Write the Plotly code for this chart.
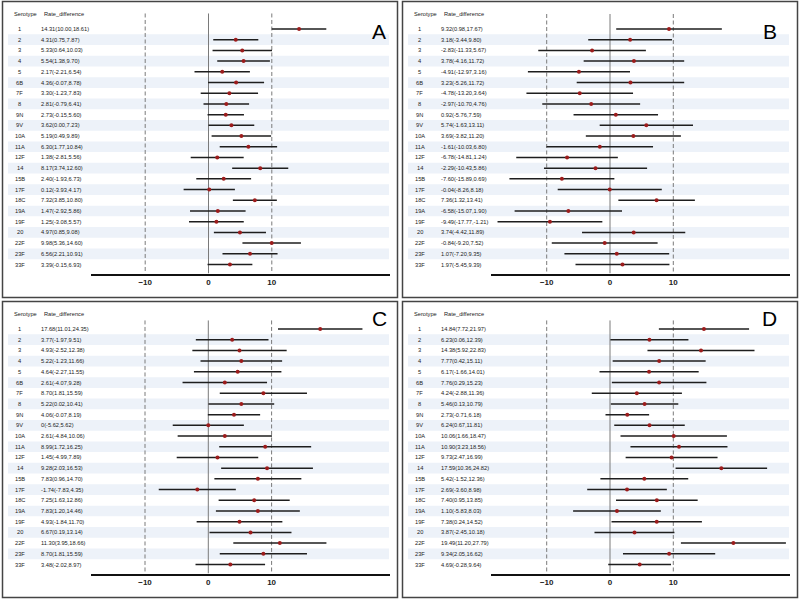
import plotly.graph_objects as go

serotypes = ["1", "2", "3", "4", "5", "6B", "7F", "8", "9N", "9V", "10A", "11A",
             "12F", "14", "15B", "17F", "18C", "19A", "19F", "20", "22F", "23F", "33F"]

# panel A
a_est = [14.31, 4.31, 5.33, 5.54, 2.17, 4.36, 3.30, 2.81, 2.73, 3.62, 5.19, 6.30,
         1.38, 8.17, 2.40, 0.12, 7.32, 1.47, 1.25, 4.97, 9.98, 6.56, 3.39]
a_low = [10.00, 0.75, 0.64, 1.38, -2.21, -0.07, -1.23, -0.79, -0.15, 0.00, 0.49, 1.77,
         -2.81, 3.74, -1.93, -3.93, 3.85, -2.92, -3.08, 0.85, 5.36, 2.21, -0.15]
a_high = [18.61, 7.87, 10.03, 9.70, 6.54, 8.78, 7.83, 6.41, 5.60, 7.23, 9.89, 10.84,
          5.56, 12.60, 6.73, 4.17, 10.80, 5.86, 5.57, 9.08, 14.60, 10.91, 6.93]

# panel B
b_est = [9.32, 3.18, -2.83, 3.78, -4.91, 3.23, -4.78, -2.97, 0.92, 5.74, 3.69, -1.61,
         -6.78, -2.29, -7.60, -0.04, 7.36, -6.58, -9.49, 3.74, -0.84, 1.07, 1.97]
b_low = [0.98, -3.44, -11.33, -4.16, -12.97, -5.26, -13.20, -10.70, -5.76, -1.63, -3.82, -10.03,
         -14.81, -10.43, -15.89, -8.26, 1.32, -15.07, -17.77, -4.42, -9.20, -7.20, -5.45]
b_high = [17.67, 9.80, 5.67, 11.72, 3.16, 11.72, 3.64, 4.76, 7.59, 13.11, 11.20, 6.80,
          1.24, 5.86, 0.69, 8.18, 13.41, 1.90, -1.21, 11.89, 7.52, 9.35, 9.39]

# panel C
c_est = [17.68, 3.77, 4.93, 5.22, 4.64, 2.61, 8.70, 5.22, 4.06, 0, 2.61, 8.99,
         1.45, 9.28, 7.83, -1.74, 7.25, 7.83, 4.93, 6.67, 11.30, 8.70, 3.48]
c_low = [11.01, -1.97, -2.52, -1.23, -2.27, -4.07, 1.81, 0.02, -0.07, -5.62, -4.84, 1.72,
         -4.99, 2.03, 0.96, -7.83, 1.63, 1.20, -1.84, 0.19, 3.95, 1.81, -2.02]
c_high = [24.35, 9.51, 12.38, 11.66, 11.55, 9.28, 15.59, 10.41, 8.19, 5.62, 10.06, 16.25,
          7.89, 16.53, 14.70, 4.35, 12.86, 14.46, 11.70, 13.14, 18.66, 15.59, 8.97]

# panel D
d_est = [14.84, 6.23, 14.38, 7.77, 6.17, 7.76, 4.24, 5.46, 2.73, 6.24, 10.06, 10.90,
         9.73, 17.59, 5.42, 2.69, 7.40, 1.10, 7.38, 3.87, 19.49, 9.34, 4.69]
d_low = [7.72, 0.06, 5.92, 0.42, -1.66, 0.29, -2.88, 0.13, -0.71, 0.67, 1.66, 3.23,
         2.47, 10.36, -1.52, -3.60, 0.95, -5.83, 0.24, -2.45, 11.20, 2.05, -0.28]
d_high = [21.97, 12.39, 22.83, 15.11, 14.01, 15.23, 11.36, 10.79, 6.18, 11.81, 18.47, 18.56,
          16.99, 24.82, 12.36, 8.98, 13.85, 8.03, 14.52, 10.18, 27.79, 16.62, 9.64]

panels = [("A", a_est, a_low, a_high),
          ("B", b_est, b_low, b_high),
          ("C", c_est, c_low, c_high),
          ("D", d_est, d_low, d_high)]

W, H = 800, 599
offsets = [(0, 0), (400, 0), (0, 300), (400, 300)]
zero_px = [208.5, 210, 208.3, 210]
line_top = [-1.45, -1.4, -0.8, -0.8]
unit = 6.33
row0, step = 29, 10.705
axis_px = 273.5
font = "Arial, Liberation Sans, sans-serif"
txt = dict(size=5.7, color="#222", family=font)


def fmt(v):
    return "0" if v == 0 else f"{v:.2f}"


def px(x):
    return x / W


def py(y):
    return 1 - y / H


fig = go.Figure()
shapes = []
annotations = []
layout = {}
rows = list(range(len(serotypes)))

for k, (name, est, low, high) in enumerate(panels):
    ox, oy = offsets[k]
    xa = "x" if k == 0 else f"x{k + 1}"
    ya = "y" if k == 0 else f"y{k + 1}"
    z = zero_px[k]
    y_bottom = (axis_px - row0) / step
    y_top = (8 - row0) / step

    layout["xaxis" if k == 0 else f"xaxis{k + 1}"] = dict(
        domain=[px(ox + 91), px(ox + 390)],
        range=[(91 - z) / unit, (390 - z) / unit],
        anchor=ya, showgrid=False, zeroline=False,
        showline=True, linecolor="#111", linewidth=1.5,
        ticks="", tickvals=[-10, 0, 10],
        tickfont=dict(size=8, color="#222", family=font, weight="bold"),
    )
    layout["yaxis" if k == 0 else f"yaxis{k + 1}"] = dict(
        domain=[py(oy + axis_px), py(oy + 8)],
        range=[y_bottom, y_top], anchor=xa,
        visible=False, fixedrange=True,
    )

    # stripes
    for i in range(1, len(serotypes), 2):
        shapes.append(dict(type="rect", xref="paper", yref=ya, layer="below",
                           x0=px(ox + 8), x1=px(ox + 389), y0=i - 0.5, y1=i + 0.5,
                           fillcolor="#edf2f9", line=dict(width=0)))
    # reference lines
    for v in [-10, 0, 10]:
        shapes.append(dict(type="line", xref=xa, yref=ya, layer="below",
                           x0=v, x1=v, y0=line_top[k], y1=y_bottom,
                           line=dict(color="#7a7a7a", width=1,
                                     dash="solid" if v == 0 else "4px,2.5px")))
    # border
    shapes.append(dict(type="rect", xref="paper", yref="paper",
                       x0=px(ox + 2.5), x1=px(ox + 397.5),
                       y0=py(oy + 297.5), y1=py(oy + 1.5),
                       line=dict(color="#444", width=1.5)))

    fig.add_trace(go.Scatter(
        x=est, y=rows, mode="markers",
        marker=dict(color="#9c1c1c", size=4),
        error_x=dict(type="data", symmetric=False,
                     array=[h - e for e, h in zip(est, high)],
                     arrayminus=[e - l for e, l in zip(est, low)],
                     color="#1e1e1e", thickness=1.5, width=0),
        xaxis=xa, yaxis=ya, showlegend=False, hoverinfo="skip",
    ))

    # column headers
    head_y = -1.37 if k < 2 else -1.4
    annotations.append(dict(text="Serotype", xref="paper", yref=ya, x=px(ox + 12),
                            y=head_y, xanchor="left", showarrow=False, font=txt))
    annotations.append(dict(text="Rate_difference", xref="paper", yref=ya, x=px(ox + 42),
                            y=head_y, xanchor="left", showarrow=False, font=txt))
    for i, s, e, l, h in zip(rows, serotypes, est, low, high):
        annotations.append(dict(text=s, xref="paper", yref=ya, x=px(ox + 19.5), y=i,
                                xanchor="center", showarrow=False, font=txt))
        annotations.append(dict(text=f"{fmt(e)}({l:.2f},{h:.2f})", xref="paper", yref=ya,
                                x=px(ox + 38.5), y=i, xanchor="left", showarrow=False,
                                font=txt))
    # panel letter
    annotations.append(dict(text=name, xref="paper", yref="paper",
                            x=px(ox + 379), y=py(oy + 18), showarrow=False,
                            font=dict(size=21, color="#000", family=font)))

fig.update_layout(
    width=W, height=H, margin=dict(l=0, r=0, t=0, b=0),
    paper_bgcolor="white", plot_bgcolor="rgba(0,0,0,0)",
    shapes=shapes, annotations=annotations, **layout,
)

# drop the page's default 8px body margin so the figure sits at the window corner
fig.write_html("out.html", config={"displayModeBar": False},
               post_script="document.body.style.margin='0';")
